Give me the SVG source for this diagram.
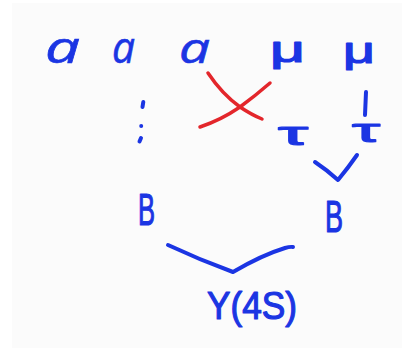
<svg xmlns="http://www.w3.org/2000/svg" width="413" height="350" viewBox="0 0 413 350">
<style>
  .t { font-family: "Liberation Sans", "DejaVu Sans", sans-serif; fill: #1b35e3; stroke: #1b35e3; stroke-width: 1.2; stroke-linejoin: round; }
  .ta { font-family: "Open Sans", "Noto Sans", "DejaVu Sans", sans-serif; font-style: italic; fill: #1b35e3; stroke: #1b35e3; stroke-width: 0.6; }
  .ln { fill: none; stroke: #1b35e3; stroke-width: 4; stroke-linecap: round; stroke-linejoin: round; }
  .rd { fill: none; stroke: #e3262b; stroke-width: 3.5; stroke-linecap: round; stroke-linejoin: round; }
</style>
<rect x="0" y="0" width="413" height="350" fill="#ffffff"/>
<rect x="12" y="3" width="390" height="345" fill="#fbfbfb"/>

<g id="a1"><text class="ta" x="45" y="63" font-size="44" textLength="35" lengthAdjust="spacingAndGlyphs">a</text></g>
<g id="a2"><text class="ta" x="112" y="63" font-size="44" textLength="23" lengthAdjust="spacingAndGlyphs">a</text></g>
<g id="a3"><text class="ta" x="179" y="63" font-size="42" textLength="31" lengthAdjust="spacingAndGlyphs">a</text></g>

<g id="dots">
  <line class="ln" x1="143.3" y1="102" x2="142.5" y2="107"/>
  <circle cx="141.2" cy="126" r="2" fill="#1b35e3"/>
  <line class="ln" x1="141" y1="138" x2="139.5" y2="141.5"/>
</g>

<g id="mu1"><text class="t" x="270" y="62" font-size="36" textLength="35" lengthAdjust="spacingAndGlyphs" stroke-width="0.4">μ</text></g>
<g id="mu2"><text class="t" x="343" y="63" font-size="36" textLength="32" lengthAdjust="spacingAndGlyphs" stroke-width="0.4">μ</text></g>

<g id="tau1"><text class="t" x="278" y="145" font-size="34" textLength="30" lengthAdjust="spacingAndGlyphs" stroke-width="0.4">τ</text></g>
<g id="tau2"><text class="t" x="352" y="142" font-size="34" textLength="28" lengthAdjust="spacingAndGlyphs" stroke-width="0.4">τ</text></g>

<g id="B1"><text class="t" x="138" y="225" font-size="44" textLength="17" lengthAdjust="spacingAndGlyphs">B</text></g>
<g id="B2"><text class="t" x="325" y="232" font-size="44" textLength="18" lengthAdjust="spacingAndGlyphs">B</text></g>

<g id="Y4S"><text class="t" x="207" y="319" font-size="38" textLength="90" lengthAdjust="spacingAndGlyphs">Υ(4S)</text></g>

<g id="connectors">
  <path class="ln" d="M366,92 L365,115"/>
  <path class="ln" d="M315,162 Q327,170 338,180 Q348,168 357,155"/>
  <path class="ln" d="M168,245 Q200,260 233,272 Q262,255 285,248 Q290,246.5 293,247"/>
</g>

<g id="cross">
  <path class="rd" d="M208,73 Q222,94 240,107 Q252,115 262,119"/>
  <path class="rd" d="M270,83 Q255,96 240,107 Q221,120 200,127"/>
</g>
</svg>
